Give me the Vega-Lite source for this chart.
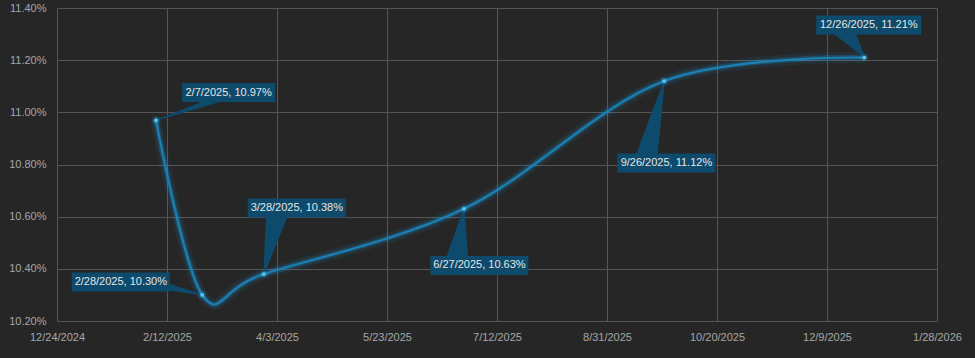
{
  "$schema": "https://vega.github.io/schema/vega-lite/v6.json",
  "width": 880,
  "height": 313,
  "autosize": {"type": "none"},
  "padding": {"left": 57, "top": 8, "right": 38, "bottom": 37},
  "background": "#262626",
  "config": {
    "view": {"stroke": null},
    "font": "Liberation Sans",
    "axis": {
      "domain": false,
      "ticks": false,
      "labelFlush": false,
      "gridColor": "#555555",
      "gridWidth": 1,
      "gridOpacity": 1,
      "labelColor": "#a6a6a6",
      "labelFontSize": 11,
      "labelFont": "Liberation Sans",
      "title": null
    }
  },
  "resolve": {"scale": {"size": "independent"}},
  "datasets": {
    "pts": [
      {"date": "2025-02-07", "v": 0.1097},
      {"date": "2025-02-28", "v": 0.1030},
      {"date": "2025-03-28", "v": 0.1038},
      {"date": "2025-06-27", "v": 0.1063},
      {"date": "2025-09-26", "v": 0.1112},
      {"date": "2025-12-26", "v": 0.1121}
    ],
    "boxes": [
      {"label": "2/7/2025, 10.97%", "ld": "2025-03-12", "lv": 0.11076},
      {"label": "2/28/2025, 10.30%", "ld": "2025-01-22", "lv": 0.10350},
      {"label": "3/28/2025, 10.38%", "ld": "2025-04-12", "lv": 0.10633},
      {"label": "6/27/2025, 10.63%", "ld": "2025-07-04", "lv": 0.10413},
      {"label": "9/26/2025, 11.12%", "ld": "2025-09-27", "lv": 0.10806},
      {"label": "12/26/2025, 11.21%", "ld": "2025-12-28", "lv": 0.11335}
    ],
    "leaders": [
      {"id": "a", "end": "tip", "d": "2025-02-07", "v": 0.1097},
      {"id": "a", "end": "base", "d": "2025-03-09", "v": 0.11056},
      {"id": "b", "end": "tip", "d": "2025-02-28", "v": 0.1030},
      {"id": "b", "end": "base", "d": "2025-02-12", "v": 0.10332},
      {"id": "c", "end": "tip", "d": "2025-03-28", "v": 0.1038},
      {"id": "c", "end": "base", "d": "2025-04-03", "v": 0.10610},
      {"id": "d", "end": "tip", "d": "2025-06-27", "v": 0.1063},
      {"id": "d", "end": "base", "d": "2025-06-24", "v": 0.10442},
      {"id": "e", "end": "tip", "d": "2025-09-26", "v": 0.1112},
      {"id": "e", "end": "base", "d": "2025-09-18", "v": 0.10829},
      {"id": "f", "end": "tip", "d": "2025-12-26", "v": 0.1121},
      {"id": "f", "end": "base", "d": "2025-12-16", "v": 0.11327}
    ]
  },
  "layer": [
    {
      "data": {"name": "pts"},
      "mark": {"type": "line", "interpolate": "cardinal", "color": "#1aa0e0", "strokeWidth": 11, "opacity": 0.09},
      "encoding": {
        "x": {
          "field": "date", "type": "temporal",
          "scale": {"type": "utc", "domain": [{"year": 2024, "month": 12, "date": 24, "utc": true}, {"year": 2026, "month": 1, "date": 28, "utc": true}]},
          "axis": {
            "format": "%-m/%-d/%Y", "labelPadding": 10,
            "values": [
              {"year": 2024, "month": 12, "date": 24, "utc": true},
              {"year": 2025, "month": 2, "date": 12, "utc": true},
              {"year": 2025, "month": 4, "date": 3, "utc": true},
              {"year": 2025, "month": 5, "date": 23, "utc": true},
              {"year": 2025, "month": 7, "date": 12, "utc": true},
              {"year": 2025, "month": 8, "date": 31, "utc": true},
              {"year": 2025, "month": 10, "date": 20, "utc": true},
              {"year": 2025, "month": 12, "date": 9, "utc": true},
              {"year": 2026, "month": 1, "date": 28, "utc": true}
            ]
          }
        },
        "y": {
          "field": "v", "type": "quantitative",
          "scale": {"domain": [0.102, 0.114], "nice": false, "zero": false},
          "axis": {"format": ".2%", "labelPadding": 11, "values": [0.102, 0.104, 0.106, 0.108, 0.110, 0.112, 0.114]}
        }
      }
    },
    {
      "data": {"name": "pts"},
      "mark": {"type": "line", "interpolate": "cardinal", "color": "#1aa0e0", "strokeWidth": 5.5, "opacity": 0.22},
      "encoding": {
        "x": {"field": "date", "type": "temporal"},
        "y": {"field": "v", "type": "quantitative"}
      }
    },
    {
      "data": {"name": "leaders"},
      "transform": [{"filter": "datum.id == 'a' || datum.id == 'b'"}],
      "mark": {"type": "trail", "color": "#0e4a6b"},
      "encoding": {
        "x": {"field": "d", "type": "temporal"},
        "y": {"field": "v", "type": "quantitative"},
        "detail": {"field": "id"},
        "size": {"field": "end", "type": "ordinal", "scale": {"domain": ["tip", "base"], "range": [0, 7]}, "legend": null}
      }
    },
    {
      "data": {"name": "leaders"},
      "transform": [{"filter": "datum.id != 'a' && datum.id != 'b'"}],
      "mark": {"type": "trail", "color": "#0e4a6b"},
      "encoding": {
        "x": {"field": "d", "type": "temporal"},
        "y": {"field": "v", "type": "quantitative"},
        "detail": {"field": "id"},
        "size": {"field": "end", "type": "ordinal", "scale": {"domain": ["tip", "base"], "range": [0, 22]}, "legend": null}
      }
    },
    {
      "data": {"name": "pts"},
      "mark": {"type": "line", "interpolate": "cardinal", "color": "#1b80b6", "strokeWidth": 2.2},
      "encoding": {
        "x": {"field": "date", "type": "temporal"},
        "y": {"field": "v", "type": "quantitative"}
      }
    },
    {
      "data": {"name": "pts"},
      "mark": {"type": "circle", "color": "#2aa8e8", "size": 60, "opacity": 0.25},
      "encoding": {
        "x": {"field": "date", "type": "temporal"},
        "y": {"field": "v", "type": "quantitative"}
      }
    },
    {
      "data": {"name": "pts"},
      "mark": {"type": "circle", "color": "#5cc8f5", "size": 14, "opacity": 1},
      "encoding": {
        "x": {"field": "date", "type": "temporal"},
        "y": {"field": "v", "type": "quantitative"}
      }
    },
    {
      "data": {"name": "boxes"},
      "transform": [{"filter": "length(datum.label) == 16"}],
      "mark": {"type": "rect", "color": "#0e4a6b", "width": 93, "height": 19},
      "encoding": {
        "x": {"field": "ld", "type": "temporal"},
        "y": {"field": "lv", "type": "quantitative"}
      }
    },
    {
      "data": {"name": "boxes"},
      "transform": [{"filter": "length(datum.label) == 17"}],
      "mark": {"type": "rect", "color": "#0e4a6b", "width": 98, "height": 19},
      "encoding": {
        "x": {"field": "ld", "type": "temporal"},
        "y": {"field": "lv", "type": "quantitative"}
      }
    },
    {
      "data": {"name": "boxes"},
      "transform": [{"filter": "length(datum.label) == 18"}],
      "mark": {"type": "rect", "color": "#0e4a6b", "width": 105, "height": 19},
      "encoding": {
        "x": {"field": "ld", "type": "temporal"},
        "y": {"field": "lv", "type": "quantitative"}
      }
    },
    {
      "data": {"name": "boxes"},
      "mark": {"type": "text", "color": "#e6e6e6", "fontSize": 11, "font": "Liberation Sans", "align": "center", "baseline": "middle"},
      "encoding": {
        "x": {"field": "ld", "type": "temporal"},
        "y": {"field": "lv", "type": "quantitative"},
        "text": {"field": "label"}
      }
    }
  ]
}
